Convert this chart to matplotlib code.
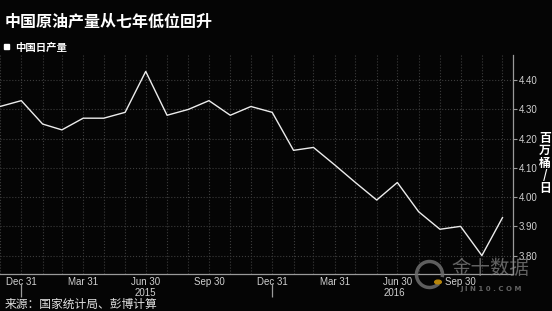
import pandas as pd
import matplotlib
matplotlib.use('Agg')
import matplotlib.pyplot as plt
import matplotlib.dates as mdates
import matplotlib.patches as mpatches

# 中国原油日产量 (百万桶/日), 月末数据
months = pd.date_range('2014-11-30', '2016-11-30', freq='ME')
output = [4.31, 4.33, 4.25, 4.23, 4.27, 4.27, 4.29, 4.43, 4.28, 4.30, 4.33, 4.28,
          4.31, 4.29, 4.16, 4.17, 4.11, 4.05, 3.99, 4.05, 3.95, 3.89, 3.90, 3.80, 3.93]
quarter_ticks = pd.date_range('2014-12-31', '2016-09-30', freq='QE')
year_labels = ['2015', '2016']
year_label_pos = pd.to_datetime(['2015-06-30', '2016-06-25'])
year_breaks = pd.to_datetime(['2014-12-31', '2015-12-31'])
y_ticks = [3.80, 3.90, 4.00, 4.10, 4.20, 4.30, 4.40]

cjk = ['Noto Sans CJK SC', 'DejaVu Sans']
bg = '#050505'
grid_c = '#3c3c3c'
axis_c = '#9a9a9a'

fig = plt.figure(figsize=(5.52, 3.11), dpi=100, facecolor=bg)
ax = fig.add_axes([0.0, 0.119, 0.929, 0.704], facecolor=bg)

ax.plot(months, output, color='#ececec', lw=1.0)

ax.set_xlim(pd.Timestamp('2014-11-30'), pd.Timestamp('2016-12-15'))
ax.set_ylim(3.737, 4.486)

# x轴: 季度标签, 每月网格
ax.xaxis.set_major_locator(plt.FixedLocator(mdates.date2num(quarter_ticks)))
ax.xaxis.set_major_formatter(mdates.DateFormatter('%b %d'))
ax.xaxis.set_minor_locator(plt.FixedLocator(mdates.date2num(months)))
ax.tick_params(axis='x', which='both', length=0, pad=2.5, labelsize=7,
               labelcolor='#d0d0d0')
for lab in ax.get_xticklabels():
    lab.set_family('Liberation Sans')

# y轴在右边
ax.yaxis.tick_right()
ax.set_yticks(y_ticks)
ax.set_yticklabels(['%.2f' % v for v in y_ticks])
ax.tick_params(axis='y', length=3, width=0.8, color=axis_c, pad=1,
               labelsize=7, labelcolor='#d0d0d0')
for lab in ax.get_yticklabels():
    lab.set_family('Liberation Sans')

ax.grid(True, which='both', axis='x', color=grid_c, ls=':', lw=0.8)
ax.grid(True, which='major', axis='y', color=grid_c, ls=':', lw=0.8)

for s in ['top', 'left']:
    ax.spines[s].set_visible(False)
for s in ['bottom', 'right']:
    ax.spines[s].set_color(axis_c)
    ax.spines[s].set_linewidth(0.9)

# 年份标签和分隔线
for d, t in zip(year_label_pos, year_labels):
    ax.annotate(t, xy=(d, 0), xycoords=('data', 'axes fraction'),
                xytext=(0, -13.5), textcoords='offset points', ha='center',
                va='center', fontsize=7, color='#d0d0d0', family='Liberation Sans')
ax.vlines(year_breaks, -0.105, -0.041, transform=ax.get_xaxis_transform(),
          colors=axis_c, lw=0.9, clip_on=False)

# 单位
fig.text(0.987, 0.475, '百\n万\n桶\n/\n日', ha='center', va='center',
         fontsize=8.5, fontweight='bold', color='white', family=cjk,
         linespacing=0.95)

# 标题与图例
fig.text(0.009, 0.929, '中国原油产量从七年低位回升', ha='left', va='center',
         fontsize=11.5, fontweight='bold', color='white', family=cjk)
fig.patches.append(mpatches.Rectangle((4 / 552, 1 - 49 / 311), 5 / 552, 5 / 311,
                                      transform=fig.transFigure, color='white'))
fig.text(0.027, 0.847, '中国日产量', ha='left', va='center', fontsize=7.5,
         fontweight='bold', color='white', family=cjk)

# 来源
fig.text(0.009, 0.022, '来源：国家统计局、彭博计算', ha='left', va='center',
         fontsize=8.5, color='#e0e0e0', family=cjk)

# 水印
fig.patches.append(mpatches.Arc((429.5 / 552, 1 - 274.5 / 311), 26 / 552, 26 / 311,
                                theta1=-20, theta2=300, transform=fig.transFigure,
                                color='#6e6e6e', lw=2.5, alpha=0.85))
fig.patches.append(mpatches.Circle((438 / 552, 1 - 282 / 311), 0.006,
                                   transform=fig.transFigure, color='#b8860b'))
fig.text(0.889, 0.138, '金十数据', ha='center', va='center', fontsize=14,
         color='#8a8a8a', alpha=0.7, family=cjk)
fig.text(0.889, 0.071, 'J I N 1 0 . C O M', ha='center', va='center', fontsize=5,
         fontweight='bold', color='#8a8a8a', alpha=0.7, family='DejaVu Sans')

fig.savefig('out.png', dpi=100, facecolor=bg)
